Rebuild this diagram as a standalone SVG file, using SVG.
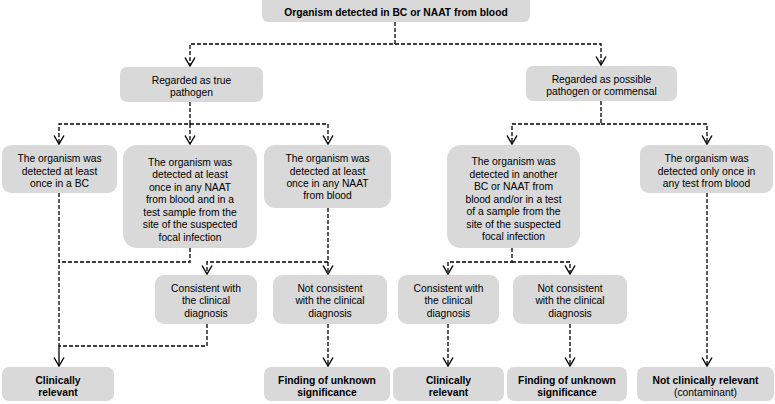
<svg xmlns="http://www.w3.org/2000/svg" width="775" height="404" viewBox="0 0 775 404">
<style>
.box{fill:#d9d9d9;stroke:none}
text{font-family:"Liberation Sans",Arial,Helvetica,sans-serif;font-size:10.3px;fill:#000;text-anchor:middle}
.b{font-weight:bold}
.c{fill:none;stroke:#000;stroke-width:1.3;stroke-dasharray:4 2}
.s{fill:none;stroke:#000;stroke-width:1.3}
</style>
<defs>
<marker id="ah" viewBox="0 0 10 12" refX="9" refY="6" markerWidth="10" markerHeight="12" markerUnits="userSpaceOnUse" orient="auto">
<path d="M0.5,1 L9,6 L0.5,11" fill="none" stroke="#000" stroke-width="1.4"/>
</marker>
</defs>
<rect width="775" height="404" fill="#fff"/>
<g id="connectors">
<path class="c" d="M395,22 V44 H190 V66" marker-end="url(#ah)"/>
<path class="c" d="M395,44 H601 V65" marker-end="url(#ah)"/>
<path class="c" d="M190,102 V124 H59 V144" marker-end="url(#ah)"/>
<path class="c" d="M190,124 V144" marker-end="url(#ah)"/>
<path class="c" d="M190,124 H328 V144" marker-end="url(#ah)"/>
<path class="c" d="M601,101 V124 H512 V144" marker-end="url(#ah)"/>
<path class="c" d="M601,124 H707 V144" marker-end="url(#ah)"/>
<path class="c" d="M59,193 V346"/>
<path class="s" d="M59,346 V366" marker-end="url(#ah)"/>
<path class="c" d="M190,248 V262 H59"/>
<path class="c" d="M328,208 V262 H207 V274" marker-end="url(#ah)"/>
<path class="c" d="M328,262 V274" marker-end="url(#ah)"/>
<path class="c" d="M207,324 V346 H59"/>
<path class="c" d="M328,324 V366" marker-end="url(#ah)"/>
<path class="c" d="M512,248 V262 H448 V274" marker-end="url(#ah)"/>
<path class="c" d="M512,262 H570 V274" marker-end="url(#ah)"/>
<path class="c" d="M448,324 V366" marker-end="url(#ah)"/>
<path class="c" d="M570,324 V366" marker-end="url(#ah)"/>
<path class="c" d="M707,193 V366" marker-end="url(#ah)"/>
</g>
<g id="n-top">
<rect class="box" x="262" y="-6" width="268" height="28" rx="6"/>
<text class="b" x="396" y="15.5">Organism detected in BC or NAAT from blood</text>
</g>
<g id="n-true">
<rect class="box" x="120" y="67" width="143" height="35" rx="7"/>
<text x="191.5" y="83.5">Regarded as true</text>
<text x="191.5" y="95.5">pathogen</text>
</g>
<g id="n-possible">
<rect class="box" x="526" y="66" width="151" height="35" rx="7"/>
<text x="601.5" y="82.5">Regarded as possible</text>
<text x="601.5" y="94.5">pathogen or commensal</text>
</g>
<g id="n-bc">
<rect class="box" x="2" y="145" width="115" height="48" rx="9"/>
<text x="59.5" y="162">The organism was</text>
<text x="59.5" y="174.5">detected at least</text>
<text x="59.5" y="186.5">once in a BC</text>
</g>
<g id="n-naat-focal">
<rect class="box" x="123" y="145" width="134" height="103" rx="14"/>
<text x="190" y="165.5">The organism  was</text>
<text x="190" y="178">detected at least</text>
<text x="190" y="190.5">once in any NAAT</text>
<text x="190" y="203">from blood and in a</text>
<text x="190" y="215.5">test sample from the</text>
<text x="190" y="228">site of the suspected</text>
<text x="190" y="240.5">focal infection</text>
</g>
<g id="n-naat">
<rect class="box" x="264" y="145" width="127" height="63" rx="11"/>
<text x="327.5" y="162">The organism was</text>
<text x="327.5" y="174.5">detected at least</text>
<text x="327.5" y="187">once in any NAAT</text>
<text x="327.5" y="199">from blood</text>
</g>
<g id="n-another">
<rect class="box" x="447" y="145" width="133" height="103" rx="14"/>
<text x="513.5" y="165">The organism was</text>
<text x="513.5" y="177.5">detected in another</text>
<text x="513.5" y="190">BC or NAAT from</text>
<text x="513.5" y="202.5">blood and/or in a test</text>
<text x="513.5" y="215">of a sample from the</text>
<text x="513.5" y="227.5">site of the suspected</text>
<text x="513.5" y="240">focal infection</text>
</g>
<g id="n-once">
<rect class="box" x="640" y="145" width="133" height="48" rx="9"/>
<text x="706.5" y="162">The organism was</text>
<text x="706.5" y="174.5">detected only once in</text>
<text x="706.5" y="186.5">any test from blood</text>
</g>
<g id="n-cons-l">
<rect class="box" x="155" y="275" width="102" height="49" rx="9"/>
<text x="206" y="291.5">Consistent with</text>
<text x="206" y="304">the clinical</text>
<text x="206" y="316.5">diagnosis</text>
</g>
<g id="n-notcons-l">
<rect class="box" x="273" y="275" width="114" height="49" rx="9"/>
<text x="330" y="291.5">Not consistent</text>
<text x="330" y="304">with the clinical</text>
<text x="330" y="316.5">diagnosis</text>
</g>
<g id="n-cons-r">
<rect class="box" x="398" y="275" width="101" height="49" rx="9"/>
<text x="448.5" y="291.5">Consistent with</text>
<text x="448.5" y="304">the clinical</text>
<text x="448.5" y="316.5">diagnosis</text>
</g>
<g id="n-notcons-r">
<rect class="box" x="513" y="275" width="114" height="49" rx="9"/>
<text x="570" y="291.5">Not consistent</text>
<text x="570" y="304">with the clinical</text>
<text x="570" y="316.5">diagnosis</text>
</g>
<g id="n-rel-l">
<rect class="box" x="2" y="367" width="112" height="34" rx="7"/>
<text class="b" x="58" y="383.5">Clinically</text>
<text class="b" x="58" y="396">relevant</text>
</g>
<g id="n-unk-l">
<rect class="box" x="264" y="367" width="126" height="34" rx="7"/>
<text class="b" x="327" y="383.5">Finding of unknown</text>
<text class="b" x="327" y="396">significance</text>
</g>
<g id="n-rel-r">
<rect class="box" x="393" y="367" width="111" height="34" rx="7"/>
<text class="b" x="448.5" y="383.5">Clinically</text>
<text class="b" x="448.5" y="396">relevant</text>
</g>
<g id="n-unk-r">
<rect class="box" x="507" y="367" width="120" height="34" rx="7"/>
<text class="b" x="567" y="383.5">Finding of unknown</text>
<text class="b" x="567" y="396">significance</text>
</g>
<g id="n-notrel">
<rect class="box" x="637" y="367" width="137" height="34" rx="7"/>
<text class="b" x="705.5" y="383.5">Not clinically relevant</text>
<text x="705.5" y="396">(contaminant)</text>
</g>
</svg>
